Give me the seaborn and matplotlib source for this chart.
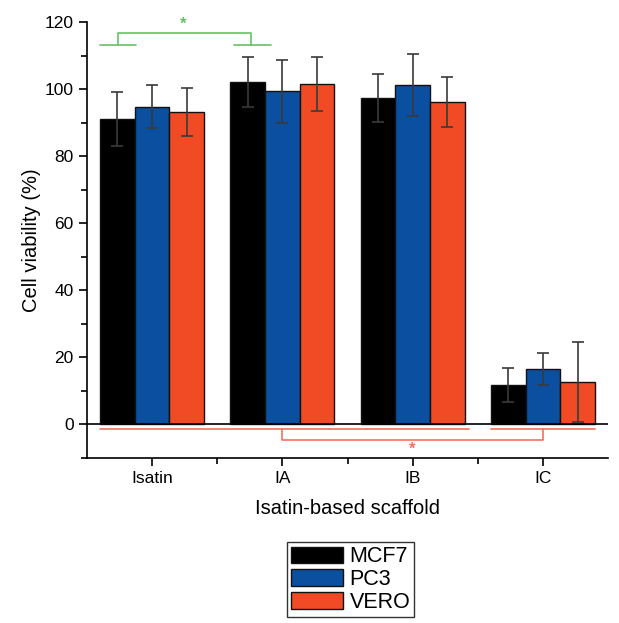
import numpy as np
import pandas as pd
import matplotlib
matplotlib.use("Agg")
import matplotlib.pyplot as plt
from matplotlib.ticker import MultipleLocator, FixedLocator
import seaborn as sns

# values
scaffolds = ["Isatin", "IA", "IB", "IC"]
lines = ["MCF7", "PC3", "VERO"]
mcf7 = [91.0, 102.2, 97.3, 11.8]
pc3 = [94.7, 99.3, 101.2, 16.6]
vero = [93.2, 101.6, 96.1, 12.6]
mcf7_sd = [8.0, 7.4, 7.2, 5.0]
pc3_sd = [6.4, 9.5, 9.2, 4.7]
vero_sd = [7.2, 8.0, 7.5, 11.9]

colors = ["#000000", "#0b4fa0", "#f04b24"]

df = pd.DataFrame({
    "scaffold": scaffolds * 3,
    "line": [l for l in lines for _ in scaffolds],
    "viability": mcf7 + pc3 + vero,
    "sd": mcf7_sd + pc3_sd + vero_sd,
})

sns.set_style("ticks")
plt.rcParams["font.family"] = ["Liberation Sans", "DejaVu Sans"]
plt.rcParams["text.color"] = "black"
plt.rcParams["axes.labelcolor"] = "black"
plt.rcParams["xtick.color"] = "black"
plt.rcParams["ytick.color"] = "black"

fig = plt.figure(figsize=(6.19, 6.23), dpi=100)
ax = fig.add_axes([87 / 619, 1 - 458 / 623, (608 - 87) / 619, (458 - 22) / 623])

sns.barplot(data=df, x="scaffold", y="viability", hue="line", order=scaffolds,
            hue_order=lines, palette=colors, errorbar=None, width=0.8,
            saturation=1, edgecolor="#111111", linewidth=1, ax=ax)

# error bars on top of each bar
for cont, line in zip(ax.containers, lines):
    sub = df[df["line"] == line].set_index("scaffold").loc[scaffolds]
    xs = [b.get_x() + b.get_width() / 2 for b in cont]
    ax.errorbar(xs, sub["viability"], yerr=sub["sd"], fmt="none",
                ecolor="#3a3a3a", elinewidth=1.2, capsize=4, capthick=1.2, zorder=5)

ax.set_xlim(-0.5, 3.5)
ax.set_ylim(-10, 120)
ax.yaxis.set_major_locator(MultipleLocator(20))
ax.yaxis.set_minor_locator(MultipleLocator(10))
ax.xaxis.set_minor_locator(FixedLocator([0.5, 1.5, 2.5]))
ax.tick_params(axis="both", which="major", direction="out", length=6, width=1.2,
               labelsize=12.5, color="black", labelcolor="black")
ax.tick_params(axis="both", which="minor", direction="out", length=4, width=1.2,
               color="black")
for s in ["left", "bottom"]:
    ax.spines[s].set_linewidth(1.2)
    ax.spines[s].set_color("black")
sns.despine(ax=ax)

ax.set_xlabel("Isatin-based scaffold", fontsize=14.5, labelpad=9)
ax.set_ylabel("Cell viability (%)", fontsize=14.5, labelpad=3)

# zero line
ax.axhline(0, color="black", lw=1.2, zorder=1)

# green significance bracket (top)
g = "#66c266"
ax.plot([-0.4, -0.12], [113.1, 113.1], color=g, lw=1.2)
ax.plot([0.63, 0.91], [113.1, 113.1], color=g, lw=1.2)
ax.plot([-0.26, -0.26, 0.76, 0.76], [113.1, 116.7, 116.7, 113.1], color=g, lw=1.2)
ax.text(0.24, 117.2, "*", color=g, ha="center", va="bottom", fontsize=12,
        fontweight="bold")

# red significance bracket (below zero)
r = "#f4715e"
ax.plot([-0.4, 2.43], [-1.5, -1.5], color=r, lw=1.2)
ax.plot([2.6, 3.4], [-1.5, -1.5], color=r, lw=1.2)
ax.plot([1.0, 1.0, 3.0, 3.0], [-1.5, -4.5, -4.5, -1.5], color=r, lw=1.2)
ax.text(2.0, -9.6, "*", color=r, ha="center", va="bottom", fontsize=12,
        fontweight="bold")

handles, labels = ax.get_legend_handles_labels()
ax.get_legend().remove()
leg = fig.legend(handles, labels, loc="upper left",
                 bbox_to_anchor=(287 / 619, 1 - 542 / 623), fontsize=15.5,
                 handlelength=2.4, handleheight=0.8, labelspacing=0.08,
                 handletextpad=0.3, borderpad=0.2, borderaxespad=0,
                 fancybox=False, framealpha=1, edgecolor="#333333")
leg.get_frame().set_linewidth(1.0)

fig.savefig("out.png", dpi=100)
